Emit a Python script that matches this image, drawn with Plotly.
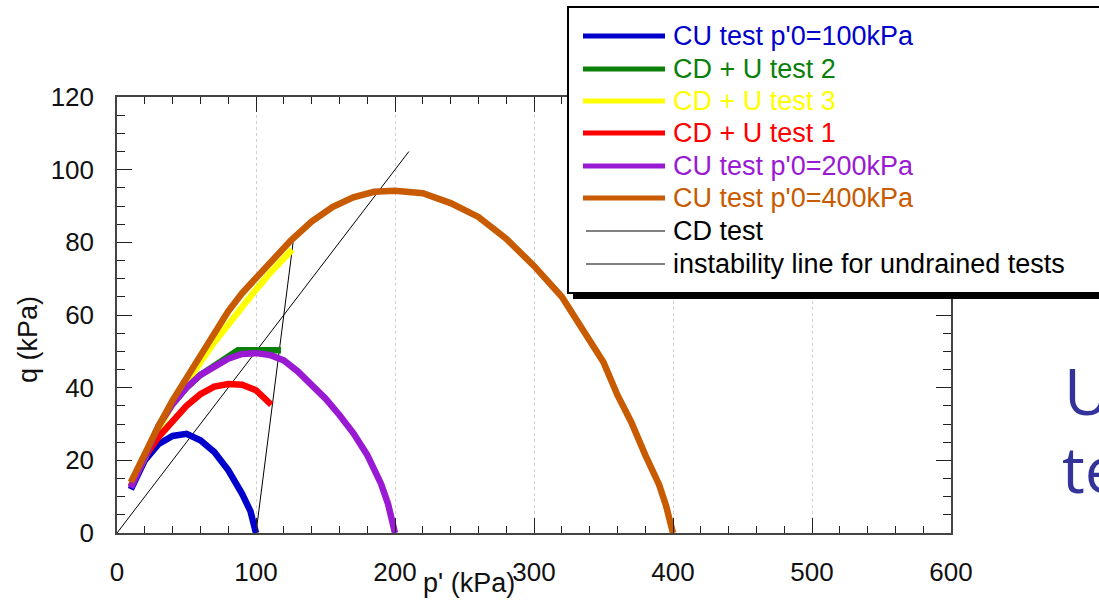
import plotly.graph_objects as go

# ---------------- data ----------------
names = ["CU test p'0=100kPa", "CD + U test 2", "CD + U test 3", "CD + U test 1",
         "CU test p'0=200kPa", "CU test p'0=400kPa", "CD test",
         "instability line for undrained tests"]
colors = ["#0000CC", "#0A800A", "#FFFF00", "#FF0000", "#9A1AD4", "#C85A00", "#000000", "#000000"]
widths = [6.5, 6.5, 6.5, 6.5, 6.5, 6.5, 1, 1]

cu100_p = [10, 15, 20, 30, 40, 50, 60, 70, 80, 90, 96, 100]
cu100_q = [12, 16.5, 20, 24.5, 26.7, 27.3, 25.5, 22.3, 17.3, 10.8, 6, 0]

cdu2_p = [10, 20, 30, 40, 50, 60, 70, 80, 87, 118]
cdu2_q = [12.8, 21.5, 29.5, 35.5, 40, 43.5, 46.2, 48.5, 50.3, 50.3]

cdu3_p = [10, 20, 30, 40, 50, 60, 70, 80, 90, 100, 110, 120, 126]
cdu3_q = [13, 21, 28.5, 35.5, 41.5, 47, 52.5, 57.5, 62.5, 67, 71.5, 75.5, 78]

cdu1_p = [10, 15, 20, 30, 40, 50, 60, 70, 80, 90, 100, 106, 111]
cdu1_q = [12.8, 17, 21, 26.5, 31, 35, 38.2, 40.3, 41, 40.8, 39.3, 37.3, 35.3]

cu200_p = [10, 15, 20, 30, 40, 50, 60, 70, 80, 90, 100, 110, 120, 130, 140, 150, 160, 170, 180, 190, 195, 198, 200]
cu200_q = [12.5, 17, 21.5, 29.5, 35.5, 40, 43.5, 46, 48, 49.3, 49.5, 49, 47.5, 44.5, 41, 37, 32.5, 27.5, 21.5, 13.5, 8, 4, 0]

cu400_p = [10, 20, 30, 40, 50, 60, 70, 80, 90, 100, 110, 125, 140, 155, 170, 185, 200, 220, 240, 260, 280, 300, 320, 340, 350, 360, 370, 380, 390, 395, 400]
cu400_q = [14, 22, 29.5, 36.5, 42.8, 48.5, 55, 61, 66, 70.3, 74.2, 80.5, 85.7, 89.7, 92.4, 93.9, 94.2, 93.5, 90.8, 87, 81, 73.5, 65, 53.2, 47, 38, 30.5, 21.5, 13.3, 7.5, 0]

cd_p = [100, 126.7]
cd_q = [0, 80]

inst_p = [0, 210]
inst_q = [0, 105]

series_p = [cu100_p, cdu2_p, cdu3_p, cdu1_p, cu200_p, cu400_p, cd_p, inst_p]
series_q = [cu100_q, cdu2_q, cdu3_q, cdu1_q, cu200_q, cu400_q, cd_q, inst_q]

x_ticks = [0, 100, 200, 300, 400, 500, 600]
y_ticks = [0, 20, 40, 60, 80, 100, 120]

# ---------------- layout geometry (pixels) ----------------
W, H = 1099, 608
L, R, T, B = 117, 148, 97, 75
pw, ph = W - L - R, H - T - B


def px(x):
    return (x - L) / pw


def py(y):
    return (H - B - y) / ph


fig = go.Figure()
# draw order: thin lines underneath, then coloured curves in legend order
order = [6, 7, 0, 1, 2, 3, 4, 5]
for i in order:
    fig.add_trace(go.Scatter(x=series_p[i], y=series_q[i], mode="lines", name=names[i],
                             line=dict(color=colors[i], width=widths[i]),
                             showlegend=False))

font = "Liberation Sans, Arial, sans-serif"
axis_common = dict(
    showline=True, linecolor="#444444", linewidth=1.5, mirror="allticks",
    ticks="inside", ticklen=15, tickwidth=1.2, tickcolor="#222222",
    tickfont=dict(family=font, size=26, color="#111111"),
    zeroline=False,
)
fig.update_xaxes(range=[0, 600], tickvals=x_ticks, showgrid=True,
                 gridcolor="#D0D0D0", griddash="dot", gridwidth=1,
                 minor=dict(dtick=20, tick0=0, ticks="inside", ticklen=7, tickcolor="#222222", showgrid=False),
                 ticklabelstandoff=15, **axis_common)
fig.update_yaxes(range=[0, 120], tickvals=y_ticks, showgrid=False,
                 minor=dict(dtick=5, tick0=0, ticks="inside", ticklen=8, tickcolor="#222222", showgrid=False),
                 ticklabelstandoff=16, **axis_common)

shapes = []
annotations = []

# legend box with shadow
bx0, by0, bx1, by1 = 568, 7, 1112, 293
shapes.append(dict(type="rect", xref="paper", yref="paper", layer="above",
                   x0=px(bx0 + 5), x1=px(bx1 + 5), y0=py(by1 + 6), y1=py(by0 + 5),
                   fillcolor="#000000", line=dict(width=0)))
shapes.append(dict(type="rect", xref="paper", yref="paper", layer="above",
                   x0=px(bx0), x1=px(bx1), y0=py(by1), y1=py(by0),
                   fillcolor="#FFFFFF", line=dict(color="#000000", width=2)))
row_y = [36, 69, 101, 133, 166, 198, 231, 264]
for i, yy in enumerate(row_y):
    thick = widths[i] > 2
    shapes.append(dict(type="line", xref="paper", yref="paper", layer="above",
                       x0=px(583 if thick else 586), x1=px(665), y0=py(yy), y1=py(yy),
                       line=dict(color=colors[i], width=5 if thick else 1)))
    annotations.append(dict(text=names[i], xref="paper", yref="paper",
                            x=px(671), y=py(yy), xanchor="left", yanchor="middle",
                            showarrow=False,
                            font=dict(family=font, size=27, color=colors[i])))

# axis titles
annotations.append(dict(text="q (kPa)", xref="paper", yref="paper", x=px(28), y=py(340),
                        textangle=-90, showarrow=False, xanchor="center", yanchor="middle",
                        font=dict(family=font, size=27, color="#111111")))
annotations.append(dict(text="p' (kPa)", xref="paper", yref="paper", x=px(469), y=py(583),
                        showarrow=False, xanchor="center", yanchor="middle",
                        font=dict(family=font, size=27, color="#111111")))

# cut-off slide text at right
annotations.append(dict(text="U", xref="paper", yref="paper", x=px(1062), y=py(390),
                        showarrow=False, xanchor="left", yanchor="middle",
                        font=dict(family="Open Sans, sans-serif", size=64, color="#333399")))
annotations.append(dict(text="te", xref="paper", yref="paper", x=px(1060), y=py(468),
                        showarrow=False, xanchor="left", yanchor="middle",
                        font=dict(family="Open Sans, sans-serif", size=64, color="#333399")))

fig.update_layout(width=W, height=H, margin=dict(l=L, r=R, t=T, b=B, autoexpand=False),
                  paper_bgcolor="#FFFFFF", plot_bgcolor="#FFFFFF",
                  shapes=shapes, annotations=annotations, showlegend=False)

fig.write_html("out.html")
